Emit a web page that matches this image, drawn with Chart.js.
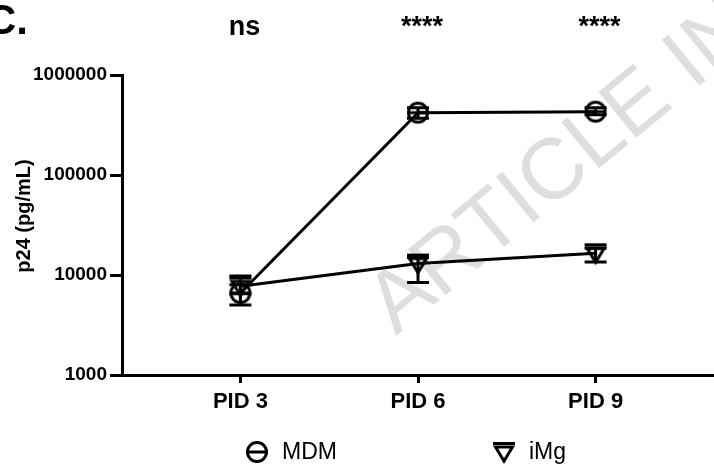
<!DOCTYPE html>
<html>
<head>
<meta charset="utf-8">
<script src="https://cdn.jsdelivr.net/npm/chart.js@4.4.1/dist/chart.umd.min.js"></script>
<style>
  html, body { margin: 0; padding: 0; background: #fff; }
  #wrap { width: 714px; height: 468px; }
</style>
</head>
<body>
<div id="wrap"><canvas id="chart" width="714" height="468"></canvas></div>
<script>
// Post-infection days and their labels
const days = [3, 6, 9];
const categories = ["PID 3", "PID 6", "PID 9"];

// p24 (pg/mL), mean with error bar ends
const mdm = [6600, 420000, 430000];
const mdmLow = [5000, 370000, 400000];
const mdmHigh = [8000, 470000, 470000];

const imgValues = [7700, 13000, 16500];
const imgLow = [6500, 8400, 13500];
const imgHigh = [9800, 15000, 18500];

const yTicks = [1000, 10000, 100000, 1000000];
const significance = ["ns", "****", "****"];

const FONT = "'Liberation Sans', Arial, sans-serif";

/**
 * Marker images (open circle with bar, open down-triangle with bar)
 */
function circleMarker() {
  const c = document.createElement("canvas");
  c.width = 26;
  c.height = 26;
  const g = c.getContext("2d");
  g.strokeStyle = "#000";
  g.lineWidth = 3;
  g.beginPath();
  g.arc(13, 13, 9.5, 0, Math.PI * 2);
  g.stroke();
  g.beginPath();
  g.moveTo(3.5, 13);
  g.lineTo(22.5, 13);
  g.stroke();
  return c;
}

function triangleMarker() {
  const c = document.createElement("canvas");
  c.width = 26;
  c.height = 26;
  const g = c.getContext("2d");
  g.strokeStyle = "#000";
  g.lineWidth = 3;
  g.beginPath();
  g.moveTo(2, 4.5);
  g.lineTo(24, 4.5);
  g.stroke();
  g.lineJoin = "miter";
  g.beginPath();
  g.moveTo(4.5, 8);
  g.lineTo(21.5, 8);
  g.lineTo(13, 22);
  g.closePath();
  g.stroke();
  return c;
}

const mdmMarker = circleMarker();
const imgMarker = triangleMarker();

// Error bars, significance marks, titles and legend
const extras = {
  id: "extras",
  beforeDraw(chart) {
    const ctx = chart.ctx;
    ctx.save();
    // watermark
    ctx.translate(396, 336);
    ctx.rotate(-0.69);
    ctx.fillStyle = "#dedede";
    ctx.font = "86px " + FONT;
    ctx.textBaseline = "alphabetic";
    ctx.fillText("ARTICLE IN PRESS", 0, 0);
    ctx.restore();
  },
  afterDatasetsDraw(chart) {
    const ctx = chart.ctx;
    const x = chart.scales.x;
    const y = chart.scales.y;
    ctx.save();
    ctx.strokeStyle = "#000";
    ctx.lineWidth = 3;
    chart.data.datasets.forEach((ds) => {
      ds.data.forEach((p, i) => {
        const px = x.getPixelForValue(p.x);
        const lo = y.getPixelForValue(ds.errLow[i]);
        const hi = y.getPixelForValue(ds.errHigh[i]);
        ctx.beginPath();
        ctx.moveTo(px, lo);
        ctx.lineTo(px, hi);
        ctx.moveTo(px - 11, lo);
        ctx.lineTo(px + 11, lo);
        ctx.moveTo(px - 11, hi);
        ctx.lineTo(px + 11, hi);
        ctx.stroke();
      });
    });
    ctx.restore();
  },
  afterDraw(chart) {
    const ctx = chart.ctx;
    const x = chart.scales.x;
    ctx.save();
    ctx.fillStyle = "#000";

    // panel letter
    ctx.font = "bold 42px " + FONT;
    ctx.textAlign = "right";
    ctx.textBaseline = "alphabetic";
    ctx.fillText("C.", 28, 34);

    // significance
    ctx.font = "bold 27px " + FONT;
    ctx.textAlign = "center";
    days.forEach((d, i) => {
      ctx.fillText(significance[i], x.getPixelForValue(d) + 4, 35);
    });

    // y title
    ctx.save();
    ctx.translate(24, 216);
    ctx.rotate(-Math.PI / 2);
    ctx.font = "bold 20px " + FONT;
    ctx.textAlign = "center";
    ctx.textBaseline = "middle";
    ctx.fillText("p24 (pg/mL)", 0, 0);
    ctx.restore();

    // legend
    const items = [
      { x: 257, img: mdmMarker },
      { x: 504, img: imgMarker },
    ];
    ctx.font = "23px " + FONT;
    ctx.textAlign = "left";
    ctx.textBaseline = "middle";
    chart.data.datasets.forEach((ds, i) => {
      const it = items[i];
      ctx.drawImage(it.img, it.x - 13, 452 - 13);
      ctx.fillText(ds.label, it.x + 25, 453);
    });
    ctx.restore();
  },
};

const toPoints = (vals) => vals.map((v, i) => ({ x: days[i], y: v }));

new Chart(document.getElementById("chart"), {
  type: "line",
  data: {
    datasets: [
      {
        label: "MDM",
        data: toPoints(mdm),
        errLow: mdmLow,
        errHigh: mdmHigh,
        borderColor: "#000",
        borderWidth: 3,
        tension: 0,
        pointStyle: mdmMarker,
        pointRadius: 10,
      },
      {
        label: "iMg",
        data: toPoints(imgValues),
        errLow: imgLow,
        errHigh: imgHigh,
        borderColor: "#000",
        borderWidth: 3,
        tension: 0,
        pointStyle: imgMarker,
        pointRadius: 10,
      },
    ],
  },
  options: {
    responsive: false,
    animation: false,
    layout: {
      autoPadding: false,
      padding: { top: 75, right: 0, bottom: 0, left: 0 },
    },
    plugins: {
      legend: { display: false },
      tooltip: { enabled: false },
    },
    scales: {
      x: {
        type: "linear",
        min: 1,
        max: 11,
        afterBuildTicks: (axis) => {
          axis.ticks = days.map((v) => ({ value: v }));
        },
        afterFit: (scale) => {
          scale.height = 93;
        },
        grid: {
          drawOnChartArea: false,
          color: "#000",
          tickLength: 8,
          tickWidth: 3,
        },
        border: { color: "#000", width: 3 },
        ticks: {
          color: "#000",
          font: { family: FONT, size: 22, weight: "bold" },
          padding: 6,
          maxRotation: 0,
          callback: (v) => categories[days.indexOf(v)],
        },
      },
      y: {
        type: "logarithmic",
        min: 1000,
        max: 1000000,
        afterBuildTicks: (axis) => {
          axis.ticks = yTicks.map((v) => ({ value: v }));
        },
        afterFit: (scale) => {
          scale.width = 122;
        },
        grid: {
          drawOnChartArea: false,
          color: "#000",
          tickLength: 12,
          tickWidth: 3,
        },
        border: { color: "#000", width: 3 },
        ticks: {
          color: "#000",
          font: { family: FONT, size: 19, weight: "bold" },
          padding: 3,
          callback: (v) => String(v),
        },
      },
    },
  },
  plugins: [extras],
});
</script>
</body>
</html>
